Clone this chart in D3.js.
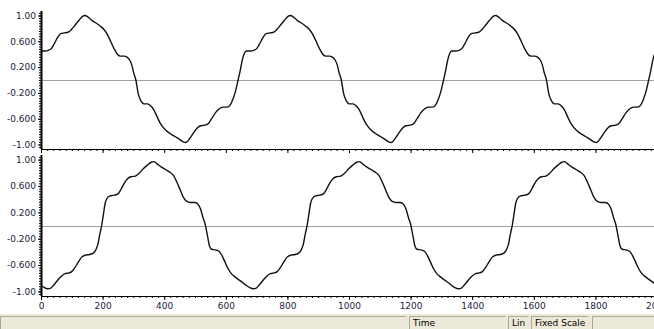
<!DOCTYPE html>
<html>
<head>
<meta charset="utf-8">
<script src="https://cdn.jsdelivr.net/npm/d3@7"></script>
<style>
  html, body { margin: 0; padding: 0; background: #ffffff; }
  svg { display: block; }
  text { font-family: "DejaVu Sans", Verdana, sans-serif; }
</style>
</head>
<body>
<svg id="chart" width="654" height="329"></svg>
<script>
// Time axis labels (samples) and amplitude labels
const timeTickLabels = ["0", "200", "400", "600", "800", "1000", "1200", "1400", "1600", "1800", "2000"];
const ampTickLabels = ["1.00", "0.600", "0.200", "-0.200", "-0.600", "-1.00"];
const ampTickValues = [1.0, 0.6, 0.2, -0.2, -0.6, -1.0];

// Channel 1: sample time and amplitude
const ch1Time = [
  0, 12, 24, 34, 44, 54, 64, 76, 88, 100, 112, 124, 136, 143, 152, 166, 180, 194, 205, 214,
  226, 238, 248, 258, 270, 280, 288, 295, 301, 308, 316, 324, 334, 346, 356, 366, 376, 386, 396, 408,
  422, 436, 450, 462, 470, 478, 488, 498, 508, 518, 532, 544, 554, 566, 578, 590, 604, 614, 622, 630,
  640, 647, 654, 660,
  667, 679, 691, 701, 711, 721, 731, 743, 755, 767, 779, 791, 803, 810, 819, 833, 847, 861, 872, 881,
  893, 905, 915, 925, 937, 947, 955, 962, 968, 975, 983, 991, 1001, 1013, 1023, 1033, 1043, 1053, 1063, 1075,
  1089, 1103, 1117, 1129, 1137, 1145, 1155, 1165, 1175, 1185, 1199, 1211, 1221, 1233, 1245, 1257, 1271, 1281, 1289, 1297,
  1307, 1314, 1321, 1327,
  1333, 1345, 1357, 1367, 1377, 1387, 1397, 1409, 1421, 1433, 1445, 1457, 1469, 1476, 1485, 1499, 1513, 1527, 1538, 1547,
  1559, 1571, 1581, 1591, 1603, 1613, 1621, 1628, 1634, 1641, 1649, 1657, 1667, 1679, 1689, 1699, 1709, 1719, 1729, 1741,
  1755, 1769, 1783, 1795, 1803, 1811, 1821, 1831, 1841, 1851, 1865, 1877, 1887, 1899, 1911, 1923, 1937, 1947, 1955, 1963,
  1973, 1980, 1987, 1993, 2000
];
const ch1Value = [
  0.45, 0.45, 0.46, 0.49, 0.57, 0.66, 0.72, 0.73, 0.74, 0.79, 0.86, 0.93, 0.99, 1.00, 0.98, 0.92, 0.88, 0.83, 0.78, 0.72,
  0.60, 0.48, 0.40, 0.37, 0.37, 0.35, 0.31, 0.23, 0.11, 0.00, -0.22, -0.32, -0.37, -0.37, -0.40, -0.46, -0.56, -0.66, -0.73, -0.79,
  -0.84, -0.88, -0.92, -0.96, -0.97, -0.94, -0.87, -0.80, -0.74, -0.71, -0.70, -0.67, -0.60, -0.51, -0.45, -0.42, -0.42, -0.39, -0.31, -0.20,
  0.00, 0.15, 0.32, 0.41,
  0.45, 0.45, 0.46, 0.49, 0.57, 0.66, 0.72, 0.73, 0.74, 0.79, 0.86, 0.93, 0.99, 1.00, 0.98, 0.92, 0.88, 0.83, 0.78, 0.72,
  0.60, 0.48, 0.40, 0.37, 0.37, 0.35, 0.31, 0.23, 0.11, 0.00, -0.22, -0.32, -0.37, -0.37, -0.40, -0.46, -0.56, -0.66, -0.73, -0.79,
  -0.84, -0.88, -0.92, -0.96, -0.97, -0.94, -0.87, -0.80, -0.74, -0.71, -0.70, -0.67, -0.60, -0.51, -0.45, -0.42, -0.42, -0.39, -0.31, -0.20,
  0.00, 0.15, 0.32, 0.41,
  0.45, 0.45, 0.46, 0.49, 0.57, 0.66, 0.72, 0.73, 0.74, 0.79, 0.86, 0.93, 0.99, 1.00, 0.98, 0.92, 0.88, 0.83, 0.78, 0.72,
  0.60, 0.48, 0.40, 0.37, 0.37, 0.35, 0.31, 0.23, 0.11, 0.00, -0.22, -0.32, -0.37, -0.37, -0.40, -0.46, -0.56, -0.66, -0.73, -0.79,
  -0.84, -0.88, -0.92, -0.96, -0.97, -0.94, -0.87, -0.80, -0.74, -0.71, -0.70, -0.67, -0.60, -0.51, -0.45, -0.42, -0.42, -0.39, -0.31, -0.20,
  0.00, 0.15, 0.32, 0.41, 0.45
];

// Channel 2: sample time and amplitude
const ch2Time = [
  0, 10, 22, 32, 42, 54, 66, 78, 90, 100, 110, 122, 132, 144, 158, 170, 178, 185, 191, 197,
  203, 208, 214, 224, 238, 250, 260, 270, 281, 292, 306, 318, 332, 346, 358, 366, 376, 390, 404, 418,
  430, 441, 452, 462, 472, 485, 500, 510, 518, 526, 534, 541, 547, 554, 566, 578, 588, 598, 608, 618,
  630, 644, 656,
  667, 677, 689, 699, 709, 721, 733, 745, 757, 767, 777, 789, 799, 811, 825, 837, 845, 852, 858, 864,
  870, 875, 881, 891, 905, 917, 927, 937, 948, 959, 973, 985, 999, 1013, 1025, 1033, 1043, 1057, 1071, 1085,
  1097, 1108, 1119, 1129, 1139, 1152, 1167, 1177, 1185, 1193, 1201, 1208, 1214, 1221, 1233, 1245, 1255, 1265, 1275, 1285,
  1297, 1311, 1323,
  1333, 1343, 1355, 1365, 1375, 1387, 1399, 1411, 1423, 1433, 1443, 1455, 1465, 1477, 1491, 1503, 1511, 1518, 1524, 1530,
  1536, 1541, 1547, 1557, 1571, 1583, 1593, 1603, 1614, 1625, 1639, 1651, 1665, 1679, 1691, 1699, 1709, 1723, 1737, 1751,
  1763, 1774, 1785, 1795, 1805, 1818, 1833, 1843, 1851, 1859, 1867, 1874, 1880, 1887, 1899, 1911, 1921, 1931, 1941, 1951,
  1963, 1977, 1989, 2000
];
const ch2Value = [
  -0.91, -0.94, -0.96, -0.95, -0.90, -0.83, -0.77, -0.73, -0.72, -0.70, -0.64, -0.55, -0.48, -0.45, -0.44, -0.42, -0.37, -0.28, -0.13, 0.00,
  0.18, 0.33, 0.41, 0.45, 0.46, 0.48, 0.55, 0.64, 0.71, 0.74, 0.75, 0.79, 0.86, 0.92, 0.96, 0.97, 0.94, 0.89, 0.85, 0.81,
  0.76, 0.66, 0.54, 0.43, 0.37, 0.35, 0.35, 0.32, 0.25, 0.12, 0.00, -0.17, -0.31, -0.36, -0.37, -0.39, -0.46, -0.56, -0.66, -0.73,
  -0.78, -0.83, -0.87,
  -0.91, -0.94, -0.96, -0.95, -0.90, -0.83, -0.77, -0.73, -0.72, -0.70, -0.64, -0.55, -0.48, -0.45, -0.44, -0.42, -0.37, -0.28, -0.13, 0.00,
  0.18, 0.33, 0.41, 0.45, 0.46, 0.48, 0.55, 0.64, 0.71, 0.74, 0.75, 0.79, 0.86, 0.92, 0.96, 0.97, 0.94, 0.89, 0.85, 0.81,
  0.76, 0.66, 0.54, 0.43, 0.37, 0.35, 0.35, 0.32, 0.25, 0.12, 0.00, -0.17, -0.31, -0.36, -0.37, -0.39, -0.46, -0.56, -0.66, -0.73,
  -0.78, -0.83, -0.87,
  -0.91, -0.94, -0.96, -0.95, -0.90, -0.83, -0.77, -0.73, -0.72, -0.70, -0.64, -0.55, -0.48, -0.45, -0.44, -0.42, -0.37, -0.28, -0.13, 0.00,
  0.18, 0.33, 0.41, 0.45, 0.46, 0.48, 0.55, 0.64, 0.71, 0.74, 0.75, 0.79, 0.86, 0.92, 0.96, 0.97, 0.94, 0.89, 0.85, 0.81,
  0.76, 0.66, 0.54, 0.43, 0.37, 0.35, 0.35, 0.32, 0.25, 0.12, 0.00, -0.17, -0.31, -0.36, -0.37, -0.39, -0.46, -0.56, -0.66, -0.73,
  -0.78, -0.83, -0.87, -0.91
];

// Status bar panels
const statusLabels = ["", "Time", "Lin", "Fixed Scale", ""];

const svg = d3.select("#chart");
const W = 654, H = 329;

const plotLeft = 41, plotRight = 657;
const x = d3.scaleLinear().domain([0, 2000]).range([plotLeft, plotRight]);

const panes = [
  { top: 11, bottom: 149, time: ch1Time, value: ch1Value, showLabels: false },
  { top: 155, bottom: 296, time: ch2Time, value: ch2Value, showLabels: true }
];

svg.append("rect").attr("width", W).attr("height", H).attr("fill", "#ffffff");

const minorX = d3.range(0, 2001, 20);
const minorY = d3.range(-1.04, 1.0401, 0.04);

panes.forEach((p, i) => {
  const y = d3.scaleLinear().domain([-1.07, 1.07]).range([p.bottom, p.top]);

  const clipId = "clip" + i;
  svg.append("clipPath").attr("id", clipId)
    .append("rect").attr("x", plotLeft).attr("y", p.top)
    .attr("width", plotRight - plotLeft).attr("height", p.bottom - p.top);

  // zero reference line
  svg.append("line")
    .attr("x1", plotLeft).attr("x2", W)
    .attr("y1", Math.round(y(0)) + 0.5).attr("y2", Math.round(y(0)) + 0.5)
    .attr("stroke", "#a0a0a0").attr("stroke-width", 1);

  // waveform
  const pts = p.time.map((t, k) => [t, p.value[k]]);
  const line = d3.line().x(d => x(d[0])).y(d => y(d[1])).curve(d3.curveMonotoneX);
  svg.append("path")
    .attr("clip-path", `url(#${clipId})`)
    .attr("d", line(pts))
    .attr("fill", "none").attr("stroke", "#111").attr("stroke-width", 1.4)
    .attr("stroke-linejoin", "round");

  // y axis: minor ticks
  const yMinor = svg.append("g").attr("transform", `translate(${plotLeft},0)`)
    .call(d3.axisLeft(y).tickValues(minorY).tickSize(2).tickFormat(""));
  yMinor.select(".domain").remove();
  yMinor.selectAll("line").attr("stroke", "#000");

  // y axis: labelled ticks
  const yAxis = svg.append("g").attr("transform", `translate(${plotLeft},0)`)
    .call(d3.axisLeft(y).tickValues(ampTickValues).tickSize(3).tickPadding(2)
      .tickFormat((d, k) => ampTickLabels[k]));
  yAxis.select(".domain").attr("d", `M0.5,${p.top}V${p.bottom}`).attr("stroke", "#000").attr("stroke-width", 2);
  yAxis.selectAll("line").attr("stroke", "#000");
  yAxis.selectAll("text").attr("font-size", 9).attr("fill", "#1c1c3c")
    .attr("font-family", "DejaVu Sans, sans-serif");

  // x axis: minor ticks
  const xMinor = svg.append("g").attr("transform", `translate(0,${p.bottom})`)
    .call(d3.axisBottom(x).tickValues(minorX).tickSize(2).tickFormat(""));
  xMinor.select(".domain").remove();
  xMinor.selectAll("line").attr("stroke", "#000");

  // x axis: major ticks (labels only on the lower pane)
  const xAxis = svg.append("g").attr("transform", `translate(0,${p.bottom})`)
    .call(d3.axisBottom(x).tickValues(timeTickLabels.map(Number)).tickSize(4).tickPadding(3)
      .tickFormat((d, k) => p.showLabels ? timeTickLabels[k] : ""));
  xAxis.select(".domain").attr("d", `M${plotLeft},0.5H${W}`).attr("stroke", "#000");
  xAxis.selectAll("line").attr("stroke", "#000");
  xAxis.selectAll("text").attr("font-size", 9).attr("fill", "#1c1c3c")
    .attr("font-family", "DejaVu Sans, sans-serif");
});

// status bar
const barTop = 314;
svg.append("rect").attr("x", 0).attr("y", barTop).attr("width", W).attr("height", H - barTop)
  .attr("fill", "#ece9d8");
const panelEdges = [[0, 407], [409, 506], [508, 529], [531, 589], [592, 660]];
panelEdges.forEach((e, k) => {
  const g = svg.append("g");
  g.append("rect").attr("x", e[0] + 0.5).attr("y", barTop + 2.5)
    .attr("width", e[1] - e[0] - 1).attr("height", H - barTop)
    .attr("fill", "#ece9d8").attr("stroke", "none");
  g.append("path")
    .attr("d", `M${e[0] + 0.5},${H}V${barTop + 2.5}H${e[1] - 0.5}`)
    .attr("fill", "none").attr("stroke", "#aca899");
  g.append("text").attr("x", e[0] + 4).attr("y", barTop + 12)
    .attr("font-size", 9).attr("fill", "#000").text(statusLabels[k]);
});
</script>
</body>
</html>
